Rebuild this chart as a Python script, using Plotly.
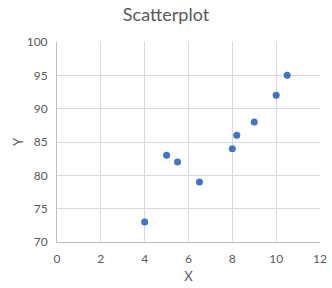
import plotly.graph_objects as go

x_vals = [4, 5, 5.5, 6.5, 8, 8.2, 9, 10, 10.5]
y_vals = [73, 83, 82, 79, 84, 86, 88, 92, 95]

fig = go.Figure(go.Scatter(
    x=x_vals, y=y_vals, mode="markers",
    marker=dict(color="#4472C4", size=7, line=dict(width=0)),
))
font = "Lato, Open Sans, Liberation Sans, sans-serif"
fig.update_layout(
    width=332, height=288,
    margin=dict(l=57, r=12, t=42, b=46, autoexpand=False),
    paper_bgcolor="white", plot_bgcolor="white",
    title=dict(text="Scatterplot", x=0.5, xanchor="center", y=0.95, yanchor="middle",
               font=dict(family=font, size=18, color="#595959")),
    font=dict(family=font, size=12, color="#595959"),
    showlegend=False,
)
fig.update_xaxes(range=[0, 12], dtick=2, showgrid=True, gridcolor="#d9d9d9", gridwidth=1,
                 showline=True, linecolor="#bfbfbf", zeroline=False, ticks="",
                 automargin=False, ticklabelstandoff=6,
                 title=dict(text="X", standoff=6, font=dict(size=13, color="#595959")),
                 tickfont=dict(size=12, color="#595959"))
fig.update_yaxes(range=[70, 100], dtick=5, showgrid=True, gridcolor="#d9d9d9", gridwidth=1,
                 showline=True, linecolor="#bfbfbf", zeroline=False, ticks="",
                 automargin=False, ticklabelstandoff=6,
                 title=dict(text="Y", standoff=0, font=dict(size=13, color="#595959")),
                 tickfont=dict(size=12, color="#595959"))
fig.write_html("out.html")
